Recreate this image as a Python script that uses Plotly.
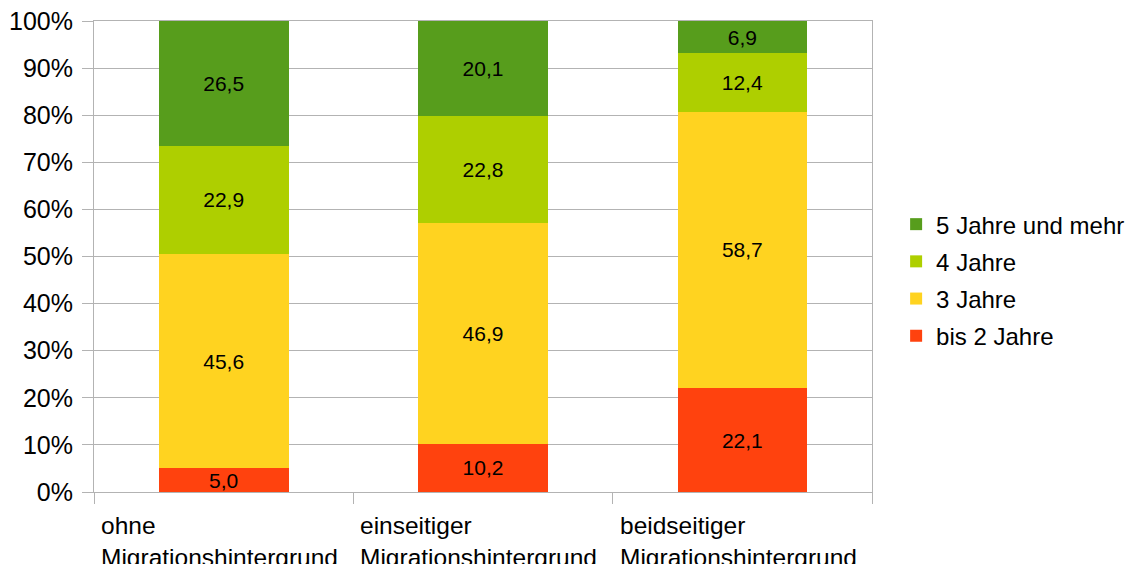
import plotly.graph_objects as go

categories = ["ohne<br>Migrationshintergrund", "einseitiger<br>Migrationshintergrund", "beidseitiger<br>Migrationshintergrund"]
series_names = ["bis 2 Jahre", "3 Jahre", "4 Jahre", "5 Jahre und mehr"]
bis2 = [5.0, 10.2, 22.1]
drei = [45.6, 46.9, 58.7]
vier = [22.9, 22.8, 12.4]
fuenf = [26.5, 20.1, 6.9]
colors = ["#ff420e", "#ffd320", "#aecf00", "#579d1c"]
y_ticks = list(range(0, 101, 10))

fig = go.Figure()
n = len(series_names)
for k, (name, vals, col) in enumerate(zip(series_names, [bis2, drei, vier, fuenf], colors)):
    fig.add_trace(go.Bar(
        x=list(range(len(categories))), y=vals, name=name, legendgroup=name,
        legendrank=n - k,
        marker=dict(color=col, line=dict(width=0)),
        text=[f"{v:.1f}".replace(".", ",") for v in vals],
        textposition="inside", insidetextanchor="middle",
        textfont=dict(family="Liberation Sans", size=21, color="black"),
        width=0.5, hoverinfo="skip",
    ))

fig.update_layout(
    barmode="stack", barnorm="percent",
    width=1142, height=564,
    margin=dict(l=94, r=270, t=21, b=72),
    plot_bgcolor="white", paper_bgcolor="white",
    font=dict(family="Liberation Sans", size=24, color="black"),
    uniformtext=dict(mode="show", minsize=21),
    showlegend=True,
    legend=dict(x=1.031, xanchor="left", y=0.45, yanchor="middle",
                traceorder="grouped", font=dict(size=24),
                tracegroupgap=3),
    xaxis=dict(range=[-0.5, 2.5], tickmode="array", tickvals=[-0.5, 0.5, 1.5, 2.5],
               ticktext=["", "", "", ""], ticks="outside", ticklen=11, tickcolor="#b3b3b3",
               tickwidth=1, showgrid=False, showline=True, linecolor="#b3b3b3",
               linewidth=1, mirror=True, zeroline=False, automargin=False),
    yaxis=dict(range=[0, 100], tickvals=y_ticks, ticktext=[f"{t}%" for t in y_ticks],
               ticks="outside", ticklen=11, tickcolor="#b3b3b3", showgrid=True,
               gridcolor="#b3b3b3", gridwidth=1, showline=True, linecolor="#b3b3b3",
               mirror=True, zeroline=False, tickfont=dict(size=25), automargin=False,
               ticklabelstandoff=4),
)

for i, cat in enumerate(categories):
    fig.add_annotation(x=i - 0.5, y=0, xref="x", yref="paper", text=cat,
                       xanchor="left", yanchor="top", align="left", showarrow=False,
                       xshift=5, yshift=-18, font=dict(size=24.5, family="Liberation Sans"))

fig.write_html("out.html", config={"displayModeBar": False},
               post_script="document.body.style.margin='0';document.body.style.overflow='hidden';")
